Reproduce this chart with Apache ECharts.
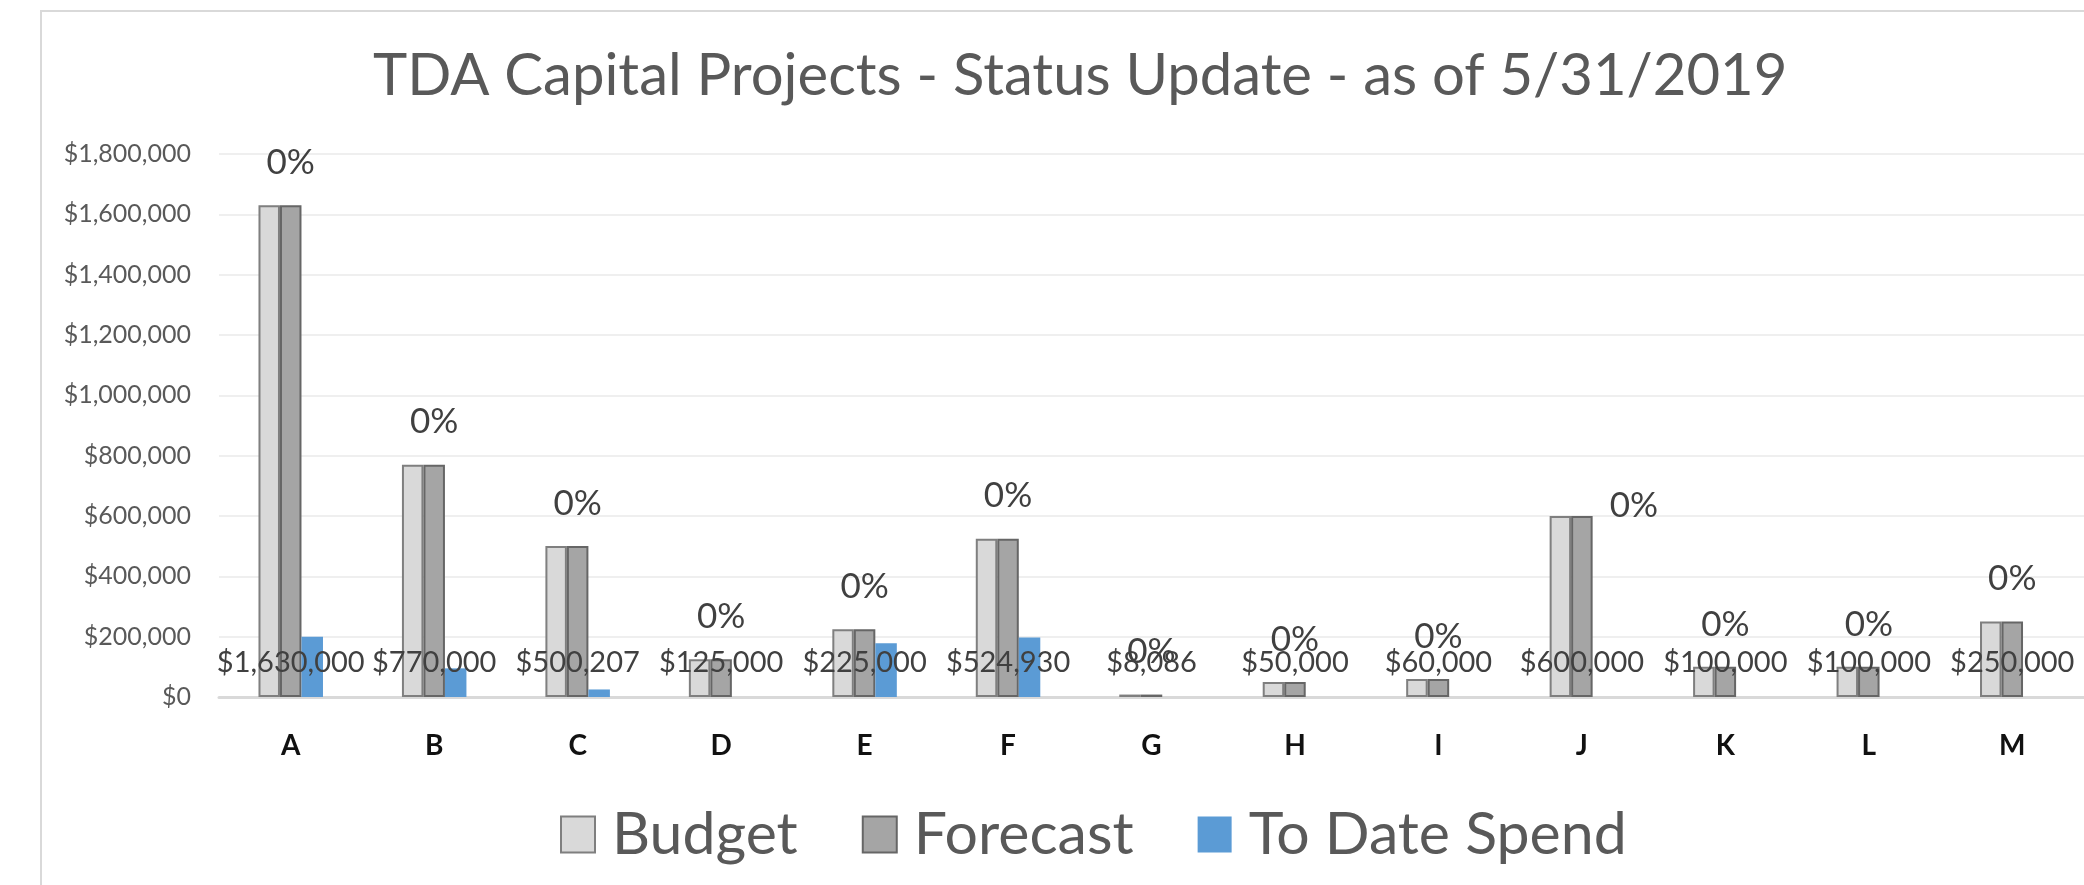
<!DOCTYPE html>
<html>
<head>
<meta charset="utf-8">
<title>TDA Capital Projects</title>
<script src="https://cdn.jsdelivr.net/npm/echarts@6.0.0/dist/echarts.min.js"></script>
<style>
  html, body { margin: 0; padding: 0; background: #fff; }
  #main { width: 2084px; height: 885px; }
</style>
</head>
<body>
<div id="main"></div>
<script>
// projects and values
var projects = ['A', 'B', 'C', 'D', 'E', 'F', 'G', 'H', 'I', 'J', 'K', 'L', 'M'];
var budget   = [1630000, 770000, 500207, 125000, 225000, 524930, 8086, 50000, 60000, 600000, 100000, 100000, 250000];
var forecast = [1630000, 770000, 500207, 125000, 225000, 524930, 8086, 50000, 60000, 600000, 100000, 100000, 250000];
var spend    = [200000, 95000, 25000, 0, 178000, 197000, 0, 0, 0, 0, 0, 0, 0];
var pctDone  = ['0%', '0%', '0%', '0%', '0%', '0%', '0%', '0%', '0%', '0%', '0%', '0%', '0%'];

function money(v) {
    return '$' + Math.round(v).toString().replace(/\B(?=(\d{3})+(?!\d))/g, ',');
}

var myChart = echarts.init(document.getElementById('main'));

var pctData = forecast.map(function (v, i) {
    var item = { value: v };
    // the J label sits beside the bar in the original
    if (projects[i] === 'J') {
        item.label = { offset: [52, 32] };
    }
    return item;
});

var option = {
    animation: false,
    backgroundColor: '#ffffff',
    textStyle: { fontFamily: 'Lato' },
    graphic: [{
        type: 'rect',
        z: -10,
        shape: { x: 41, y: 11, width: 2100, height: 900 },
        style: { fill: 'none', stroke: '#d9d9d9', lineWidth: 2 }
    }],
    title: {
        text: 'TDA Capital Projects - Status Update - as of 5/31/2019',
        left: 373,
        top: 47,
        padding: 0,
        textStyle: { fontSize: 58, fontWeight: 'normal', color: '#595959', fontFamily: 'Lato' }
    },
    legend: {
        data: ['Budget', 'Forecast', 'To Date Spend'],
        left: 555,
        top: 800,
        itemWidth: 34,
        itemHeight: 36,
        itemGap: 64,
        icon: 'rect',
        textStyle: { fontSize: 59, color: '#595959', padding: [0, 0, 0, 12] }
    },
    grid: { left: 219, top: 154, width: 1880, height: 543 },
    xAxis: {
        type: 'category',
        data: projects,
        axisLine: { lineStyle: { color: '#d9d9d9', width: 3 } },
        axisTick: { show: false },
        axisLabel: { fontSize: 28, fontWeight: 'bold', color: '#111111', margin: 35 }
    },
    yAxis: {
        type: 'value',
        min: 0,
        max: 1800000,
        interval: 200000,
        axisLine: { show: false },
        axisTick: { show: false },
        splitLine: { lineStyle: { color: '#efefef', width: 2 } },
        axisLabel: { fontSize: 25, color: '#595959', margin: 28, formatter: money }
    },
    series: [
        {
            name: 'Budget',
            type: 'bar',
            data: budget,
            barWidth: 21.5,
            barGap: '0%',
            itemStyle: { color: '#d9d9d9', borderColor: '#7f7f7f', borderWidth: 2 },
            label: {
                show: true,
                position: 'insideBottom',
                distance: 20,
                offset: [21.5, 0],
                fontSize: 29,
                lineHeight: 29,
                color: '#404040',
                formatter: function (p) { return money(p.value); }
            }
        },
        {
            name: 'Forecast',
            type: 'bar',
            data: pctData,
            barWidth: 21.5,
            itemStyle: { color: '#a5a5a5', borderColor: '#666666', borderWidth: 2 },
            label: {
                show: true,
                position: 'top',
                distance: 25,
                fontSize: 35,
                lineHeight: 35,
                color: '#404040',
                formatter: function (p) { return pctDone[p.dataIndex]; }
            }
        },
        {
            name: 'To Date Spend',
            type: 'bar',
            data: spend,
            barWidth: 21.5,
            itemStyle: { color: '#5b9bd5' }
        }
    ]
};

myChart.setOption(option);
</script>
</body>
</html>
